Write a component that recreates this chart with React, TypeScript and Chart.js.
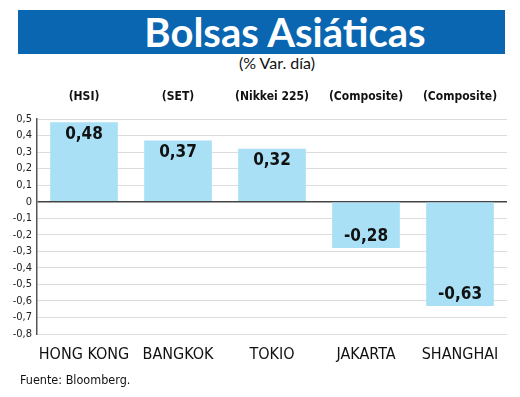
import React, { useEffect, useRef } from "react";
import { Chart, registerables } from "chart.js";

Chart.register(...registerables);

const categories = ["HONG KONG", "BANGKOK", "TOKIO", "JAKARTA", "SHANGHAI"];
const indexNames = ["(HSI)", "(SET)", "(Nikkei 225)", "(Composite)", "(Composite)"];
const values = [0.48, 0.37, 0.32, -0.28, -0.63];
const yMin = -0.8;
const yMax = 0.5;
const yStep = 0.1;

const NARROW = "'Liberation Sans Narrow', 'DejaVu Sans Condensed', 'Arial Narrow', sans-serif";

const fmt = (v: number) => {
  const r = Math.round(v * 100) / 100;
  if (r === 0) return "0";
  return String(r).replace(".", ",");
};

const labelPlugin = {
  id: "barLabels",
  afterDatasetsDraw(chart: any) {
    const { ctx } = chart;
    const meta = chart.getDatasetMeta(0);
    const xScale = chart.scales.x;
    ctx.save();
    ctx.fillStyle = "#111";
    ctx.textAlign = "center";
    ctx.textBaseline = "middle";
    ctx.font = `bold 17px ${NARROW}`;
    meta.data.forEach((bar: any, i: number) => {
      const v = values[i];
      const y = v >= 0 ? bar.y + 12 : bar.y - 11;
      ctx.fillText(fmt(v), bar.x, y);
    });
    ctx.font = `bold 12px ${NARROW}`;
    indexNames.forEach((name, i) => {
      const x = xScale.getPixelForValue(i);
      ctx.fillText(name, x, 97);
    });
    ctx.restore();
  },
};

export default function App() {
  const ref = useRef<HTMLCanvasElement | null>(null);

  useEffect(() => {
    if (!ref.current) return;
    const chart = new Chart(ref.current, {
      type: "bar",
      data: {
        labels: categories,
        datasets: [
          {
            data: values,
            backgroundColor: "#a9e0f6",
            borderWidth: 0,
            categoryPercentage: 0.8,
            barPercentage: 0.9,
          },
        ],
      },
      options: {
        animation: false,
        responsive: false,
        maintainAspectRatio: false,
        layout: { padding: { top: 119, right: 13, bottom: 33, left: 0 } },
        plugins: {
          legend: { display: false },
          tooltip: { enabled: false },
          title: { display: false },
        },
        scales: {
          x: {
            grid: { display: false, drawTicks: false },
            border: { display: false },
            ticks: {
              color: "#111",
              font: { family: NARROW, size: 16 },
              padding: 11,
              maxRotation: 0,
              autoSkip: false,
            },
            afterFit: (s: any) => {
              s.height = 30;
            },
          },
          y: {
            min: yMin,
            max: yMax,
            grid: {
              drawTicks: false,
              color: (c: any) => (c.tick && Math.abs(c.tick.value) < 1e-9 ? "#444" : "#dcdcdc"),
              lineWidth: (c: any) => (c.tick && Math.abs(c.tick.value) < 1e-9 ? 1.5 : 1),
            },
            border: { display: true, color: "#555", width: 1.5 },
            ticks: {
              stepSize: yStep,
              autoSkip: false,
              color: "#222",
              font: { family: NARROW, size: 11 },
              padding: 5,
              callback: (v: any) => fmt(Number(v)),
            },
            afterFit: (s: any) => {
              s.width = 37;
            },
          },
        },
      },
      plugins: [labelPlugin],
    });
    return () => chart.destroy();
  }, []);

  return (
    <div style={{ position: "fixed", left: 0, top: 0, width: 520, height: 397, background: "#fff", overflow: "hidden" }}>
      <div
        style={{
          position: "absolute",
          left: 18,
          top: 10,
          width: 487,
          height: 44,
          background: "#0a66b1",
        }}
      />
      <div
        style={{
          position: "absolute",
          left: 18,
          top: 10,
          width: 534,
          height: 44,
          lineHeight: "44px",
          textAlign: "center",
          color: "#fff",
          fontFamily: "Lato, 'Open Sans', sans-serif",
          fontWeight: 700,
          fontSize: 40,
        }}
      >
        Bolsas Asiáticas
      </div>
      <div
        style={{
          position: "absolute",
          left: 0,
          top: 54,
          width: 554,
          textAlign: "center",
          color: "#111",
          fontFamily: "Lato, sans-serif",
          fontSize: 16,
          lineHeight: "18px",
        }}
      >
        (% Var. día)
      </div>
      <canvas ref={ref} width={520} height={397} style={{ position: "absolute", left: 0, top: 0 }} />
      <div
        style={{
          position: "absolute",
          left: 20,
          top: 372,
          color: "#111",
          fontFamily: NARROW,
          fontSize: 12.5,
          lineHeight: "16px",
        }}
      >
        Fuente: Bloomberg.
      </div>
    </div>
  );
}
